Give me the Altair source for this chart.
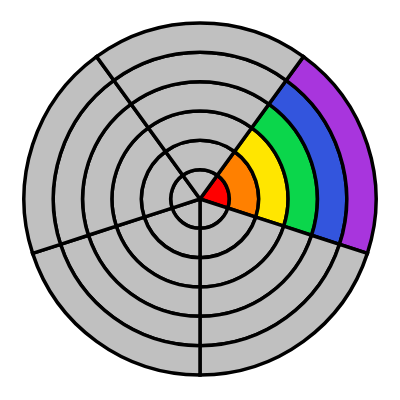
import math
import altair as alt
import pandas as pd

sectors = [0, 1, 2, 3, 4]
rings = [1, 2, 3, 4, 5, 6]
ring_colors = ["#FF0000", "#FF8000", "#FFE600", "#0BD64B", "#3355DD", "#A835DD"]
grey = "#C0C0C0"
highlight_sector = 0

rows = []
for s in sectors:
    for r in rings:
        rows.append({
            "t0": s, "t1": s + 1,
            "r0": r - 1, "r1": r,
            "color": ring_colors[r - 1] if s == highlight_sector else grey,
        })
df = pd.DataFrame(rows)

start = math.pi / 5
chart = alt.Chart(df).mark_arc(stroke="black", strokeWidth=3.5).encode(
    theta=alt.Theta("t0:Q", scale=alt.Scale(domain=[0, 5], range=[start, start + 2 * math.pi]), stack=None),
    theta2="t1:Q",
    radius=alt.Radius("r0:Q", scale=alt.Scale(type="linear", domain=[0, 6], range=[0, 176], zero=True)),
    radius2="r1:Q",
    color=alt.Color("color:N", scale=None),
).properties(width=384, height=382, padding=0, autosize="none").configure_view(stroke=None)

chart.save("out.html", embed_options={"renderer": "svg", "actions": False})
